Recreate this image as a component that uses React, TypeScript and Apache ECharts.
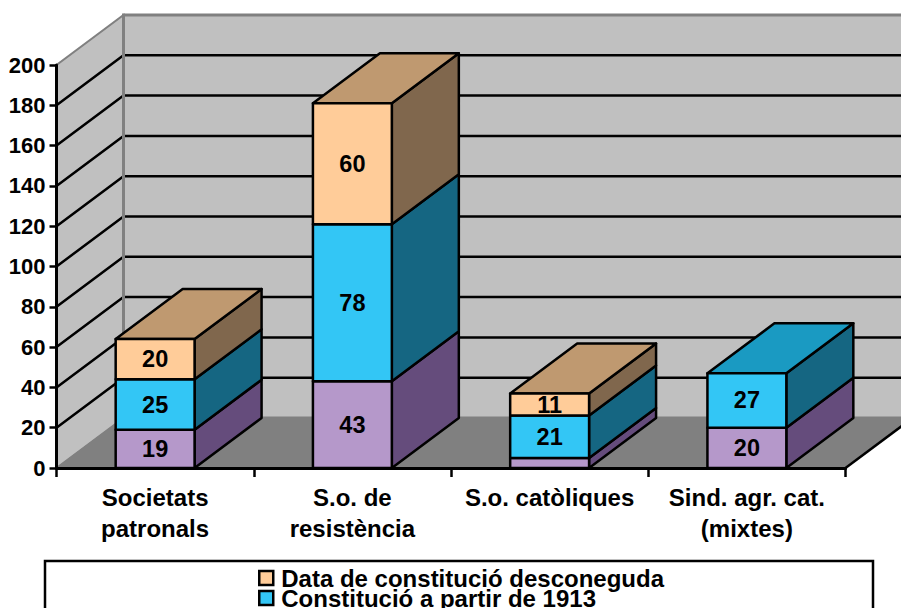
import React, { useEffect, useRef } from "react";
import * as echarts from "echarts";

const categories = ["Societats\npatronals", "S.o. de\nresistència", "S.o. catòliques", "Sind. agr. cat.\n(mixtes)"];
const beforeValues = [19, 43, 5, 20];
const from1913Values = [25, 78, 21, 27];
const unknownValues: (number | null)[] = [20, 60, 11, null];
const gridValues = [20, 40, 60, 80, 100, 120, 140, 160, 180];
const legendNames = ["Data de constitució desconeguda", "Constitució a partir de 1913"];

const FONT = "'Liberation Sans', Arial, sans-serif";
const DX = 67;
const DY = -50;
const BAR_RATIO = 0.4;

const layers = [
  { name: "Constitució anterior a 1913", values: beforeValues as (number | null)[], front: "#B598CA", side: "#654C7C", top: "#8772A0" },
  { name: legendNames[1], values: from1913Values as (number | null)[], front: "#33C6F5", side: "#156682", top: "#1A9AC2" },
  { name: legendNames[0], values: unknownValues, front: "#FFCC99", side: "#80674D", top: "#BF9970" },
];

const legendBase = {
  show: true,
  orient: "horizontal",
  left: 258,
  padding: 0,
  itemWidth: 14,
  itemHeight: 14,
  icon: "rect",
  selectedMode: false,
  align: "left",
  itemStyle: { borderColor: "#000", borderWidth: 2.5 },
  textStyle: { color: "#000", fontFamily: FONT, fontWeight: "bold", fontSize: 24, lineHeight: 14, padding: [0, 0, 0, 3] },
};

export default function App() {
  const ref = useRef<HTMLDivElement>(null);
  useEffect(() => {
    document.body.style.margin = "0";
    document.body.style.overflow = "hidden";
    const chart = echarts.init(ref.current!, null, { renderer: "svg" });

    const wallSeries = {
      type: "custom",
      name: "walls",
      silent: true,
      z: 1,
      encode: { x: 0, y: 1 },
      data: [[0, 0]],
      renderItem: (params: any, api: any) => {
        const g = params.coordSys;
        const x0 = g.x;
        const x1 = g.x + g.width;
        const y0 = g.y + g.height;
        const yTop = g.y;
        const children: any[] = [
          { type: "polygon", shape: { points: [[x0, y0], [x0 + DX, y0 + DY], [x0 + DX, yTop + DY], [x0, yTop]] }, style: { fill: "#C0C0C0", stroke: "#808080", lineWidth: 2 } },
          { type: "polygon", shape: { points: [[x0 + DX, y0 + DY], [x1 + DX, y0 + DY], [x1 + DX, yTop + DY], [x0 + DX, yTop + DY]] }, style: { fill: "#C0C0C0", stroke: "#808080", lineWidth: 3 } },
          { type: "polygon", shape: { points: [[x0, y0], [x1, y0], [x1 + DX, y0 + DY], [x0 + DX, y0 + DY]] }, style: { fill: "#808080", stroke: "#808080", lineWidth: 1 } },
          { type: "line", shape: { x1, y1: y0, x2: x1 + DX, y2: y0 + DY }, style: { stroke: "#000", lineWidth: 2.5 } },
        ];
        gridValues.forEach((v) => {
          const y = api.coord([0, v])[1];
          children.push({
            type: "polyline",
            shape: { points: [[x0, y], [x0 + DX, y + DY], [x1 + DX, y + DY]] },
            style: { stroke: "#000", lineWidth: 2.5, fill: "none" },
          });
        });
        children.push({ type: "line", shape: { x1: x0 + DX, y1: yTop + DY, x2: x0 + DX, y2: y0 + DY }, style: { stroke: "#808080", lineWidth: 3 } });
        return { type: "group", children };
      },
    };

    const barSeries = layers.map((layer, li) => {
      const data: any[] = [];
      layer.values.forEach((v, c) => {
        if (v == null) return;
        const base = layers.slice(0, li).reduce((s, l) => s + (l.values[c] ?? 0), 0);
        const isTop = layers.slice(li + 1).every((l) => l.values[c] == null);
        data.push([c, base, base + v, v, isTop ? 1 : 0]);
      });
      return {
        type: "custom",
        name: layer.name,
        silent: true,
        z: 10,
        clip: false,
        itemStyle: { color: layer.front },
        encode: { x: 0, y: [1, 2] },
        data,
        renderItem: (_: any, api: any) => {
          const c = api.value(0);
          const base = api.value(1);
          const top = api.value(2);
          const v = api.value(3);
          const isTop = api.value(4) === 1;
          const [cx, yB] = api.coord([c, base]);
          const yT = api.coord([c, top])[1];
          const w = api.size([1, 0])[0] * BAR_RATIO;
          const l = cx - w / 2;
          const r = cx + w / 2;
          const edge = { stroke: "#000", lineWidth: 2.5, lineJoin: "round" };
          const children: any[] = [
            { type: "polygon", shape: { points: [[r, yB], [r + DX, yB + DY], [r + DX, yT + DY], [r, yT]] }, style: { fill: layer.side, ...edge } },
          ];
          if (isTop) {
            children.push({ type: "polygon", shape: { points: [[l, yT], [r, yT], [r + DX, yT + DY], [l + DX, yT + DY]] }, style: { fill: layer.top, ...edge } });
          }
          children.push({ type: "rect", shape: { x: l, y: yT, width: w, height: yB - yT }, style: { fill: layer.front, ...edge } });
          if (v >= 10) {
            children.push({
              type: "text",
              x: cx,
              y: (yB + yT) / 2,
              style: { text: String(v), fill: "#000", font: `bold 23.5px ${FONT}`, textAlign: "center", textVerticalAlign: "middle" },
            });
          }
          return { type: "group", children };
        },
      };
    });

    chart.setOption({
      animation: false,
      backgroundColor: "#fff",
      grid: { left: 56.5, right: 55.5, top: 65, bottom: 140, containLabel: false },
      xAxis: {
        type: "category",
        data: categories,
        z: 5,
        axisLine: { show: true, onZero: false, lineStyle: { color: "#000", width: 3 } },
        axisTick: { show: true, alignWithLabel: false, length: 9, lineStyle: { color: "#000", width: 2.5 } },
        axisLabel: { interval: 0, color: "#000", fontFamily: FONT, fontWeight: "bold", fontSize: 24, lineHeight: 31, margin: 14 },
        splitLine: { show: false },
      },
      yAxis: {
        type: "value",
        min: 0,
        max: 200,
        interval: 20,
        z: 5,
        axisLine: { show: true, lineStyle: { color: "#000", width: 3 } },
        axisTick: { show: true, length: 7, lineStyle: { color: "#000", width: 2.5 } },
        axisLabel: { color: "#000", fontFamily: FONT, fontWeight: "bold", fontSize: 22, margin: 11, padding: [0, 0, 2, 0] },
        splitLine: { show: false },
      },
      legend: [
        { ...legendBase, data: [legendNames[0]], top: 566 },
        { ...legendBase, data: [legendNames[1]], top: 586 },
      ],
      graphic: [
        { type: "rect", z: -1, shape: { x: 45, y: 561, width: 828, height: 70 }, style: { fill: "#fff", stroke: "#000", lineWidth: 2.5 } },
      ],
      series: [wallSeries, ...barSeries],
    });
    return () => chart.dispose();
  }, []);
  return <div ref={ref} style={{ width: 901, height: 608 }} />;
}
